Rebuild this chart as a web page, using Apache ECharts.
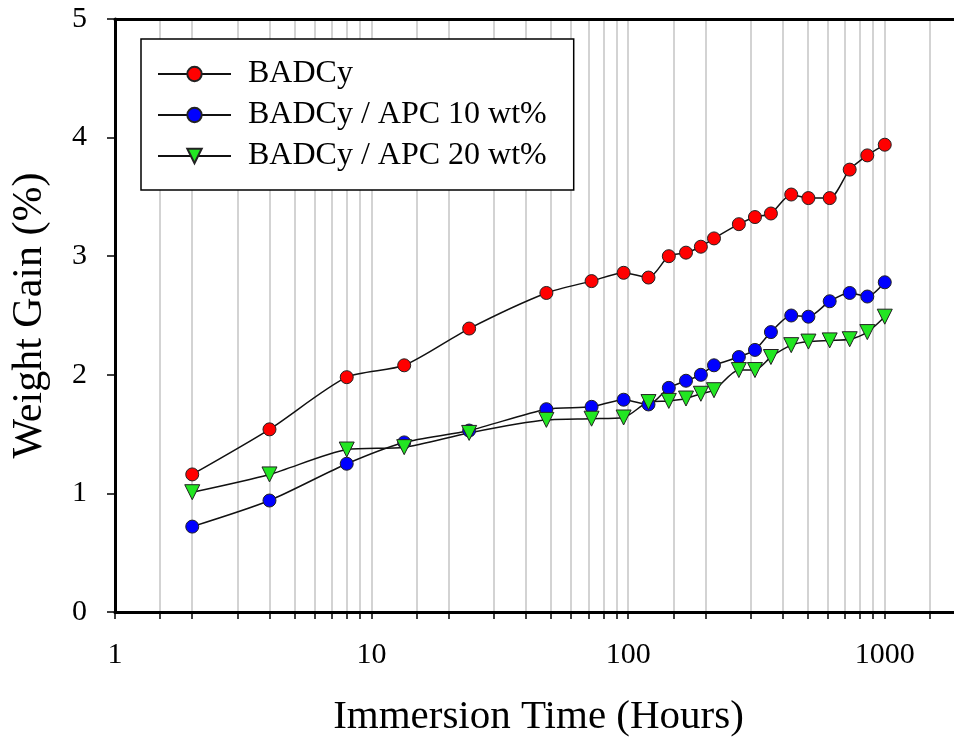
<!DOCTYPE html>
<html>
<head>
<meta charset="utf-8">
<script src="https://cdn.jsdelivr.net/npm/echarts@6/dist/echarts.min.js"></script>
<style>
    html, body { margin: 0; padding: 0; background: #fff; }
    #weight-gain-graph { width: 954px; height: 743px; }
</style>
</head>
<body>
<div id="weight-gain-graph"></div>
<script>
// immersion time (hours), shared by the three samples
const hours = [2, 4, 8, 13.4, 24, 48, 72, 96, 120, 144, 168, 192, 216, 270, 312, 360, 432, 504, 610, 730, 855, 1000];

const badcy = [1.16, 1.54, 1.98, 2.08, 2.39, 2.69, 2.79, 2.86, 2.82, 3.00, 3.03, 3.08, 3.15, 3.27, 3.33, 3.36, 3.52, 3.49, 3.49, 3.73, 3.85, 3.94];
const badcy_apc10 = [0.72, 0.94, 1.25, 1.43, 1.53, 1.71, 1.73, 1.79, 1.75, 1.89, 1.95, 2.00, 2.08, 2.15, 2.21, 2.36, 2.50, 2.49, 2.62, 2.69, 2.66, 2.78];
const badcy_apc20 = [1.01, 1.16, 1.37, 1.39, 1.51, 1.62, 1.63, 1.64, 1.77, 1.78, 1.80, 1.84, 1.87, 2.04, 2.04, 2.15, 2.25, 2.28, 2.29, 2.30, 2.36, 2.49];

// axis labels / ticks / vertical grid lines
const xLabelValues = [1, 10, 100, 1000];
const xTickValues = [1, 1.5, 2, 3, 4, 5, 6, 7, 8, 9, 10, 15, 20, 30, 40, 50, 60, 70, 80, 90,
    100, 150, 200, 300, 400, 500, 600, 700, 800, 900, 1000, 1500];
const gridHours = xTickValues.slice(1);

const FONT = '"Liberation Serif", "Times New Roman", serif';

let echarts_weight_gain_graph = echarts.init(document.getElementById('weight-gain-graph'));

function pairs(values) {
    return hours.map((h, i) => [h, values[i]]);
}

function line_series(name, values, color, symbol) {
    return {
        name: name,
        type: 'line',
        data: pairs(values),
        smooth: 0.25,
        symbol: symbol,
        symbolSize: symbol === 'circle' ? 13 : 15,
        symbolRotate: symbol === 'triangle' ? 180 : 0,
        z: 3,
        lineStyle: { color: '#111', width: 1.5 },
        itemStyle: { color: color, borderColor: '#222', borderWidth: 1 }
    };
}

let echarts_options = {
    animation: false,
    backgroundColor: '#fff',
    // the plot runs past the right edge of the picture, like the original
    grid: { left: 115, top: 19, width: 847, height: 593, outerBoundsMode: 'none', containLabel: false },
    legend: {
        data: ['BADCy', 'BADCy / APC 10 wt%', 'BADCy / APC 20 wt%'],
        orient: 'vertical',
        left: 141,
        top: 39,
        padding: [19, 27, 18, 16],
        itemGap: 9,
        itemWidth: 73,
        itemHeight: 18,
        backgroundColor: '#fff',
        borderColor: '#000',
        borderWidth: 1.5,
        textStyle: { fontFamily: FONT, fontSize: 32, color: '#000', padding: [0, 0, 0, 12] }
    },
    xAxis: [
        {
            type: 'log',
            logBase: 10,
            min: 1,
            max: 2000,
            name: 'Immersion Time (Hours)',
            nameLocation: 'middle',
            nameGap: 85,
            nameTextStyle: { fontFamily: FONT, fontSize: 41, color: '#000' },
            z: 3,
            axisLine: { lineStyle: { color: '#000', width: 3 } },
            axisTick: { customValues: xTickValues, length: 7, lineStyle: { color: '#000', width: 1.5 } },
            axisLabel: {
                customValues: xLabelValues,
                formatter: v => String(Math.round(v)),
                fontFamily: FONT, fontSize: 30, color: '#000', margin: 28
            },
            splitLine: { show: false }
        },
        {
            type: 'log',
            logBase: 10,
            min: 1,
            max: 2000,
            position: 'top',
            z: 3,
            axisLine: { lineStyle: { color: '#000', width: 3 } },
            axisTick: { show: false },
            axisLabel: { show: false },
            splitLine: { show: false }
        }
    ],
    yAxis: {
        type: 'value',
        min: 0,
        max: 5,
        interval: 1,
        name: 'Weight Gain (%)',
        nameLocation: 'middle',
        nameGap: 64,
        nameTextStyle: { fontFamily: FONT, fontSize: 42, color: '#000' },
        z: 3,
        axisLine: { lineStyle: { color: '#000', width: 3 } },
        axisTick: { length: 8, lineStyle: { color: '#000', width: 1.5 } },
        axisLabel: { fontFamily: FONT, fontSize: 30, color: '#000', margin: 28 },
        splitLine: { show: false }
    },
    series: [
        {
            name: 'grid',
            type: 'line',
            data: [],
            z: 1,
            markLine: {
                silent: true,
                z: 1,
                symbol: 'none',
                label: { show: false },
                lineStyle: { color: '#c4c4c4', width: 1.5, type: 'solid' },
                data: gridHours.map(h => ({ xAxis: h }))
            }
        },
        line_series('BADCy', badcy, '#ff0000', 'circle'),
        line_series('BADCy / APC 10 wt%', badcy_apc10, '#0000ff', 'circle'),
        line_series('BADCy / APC 20 wt%', badcy_apc20, '#22e622', 'triangle')
    ]
};

echarts_weight_gain_graph.setOption(echarts_options);
</script>
</body>
</html>
